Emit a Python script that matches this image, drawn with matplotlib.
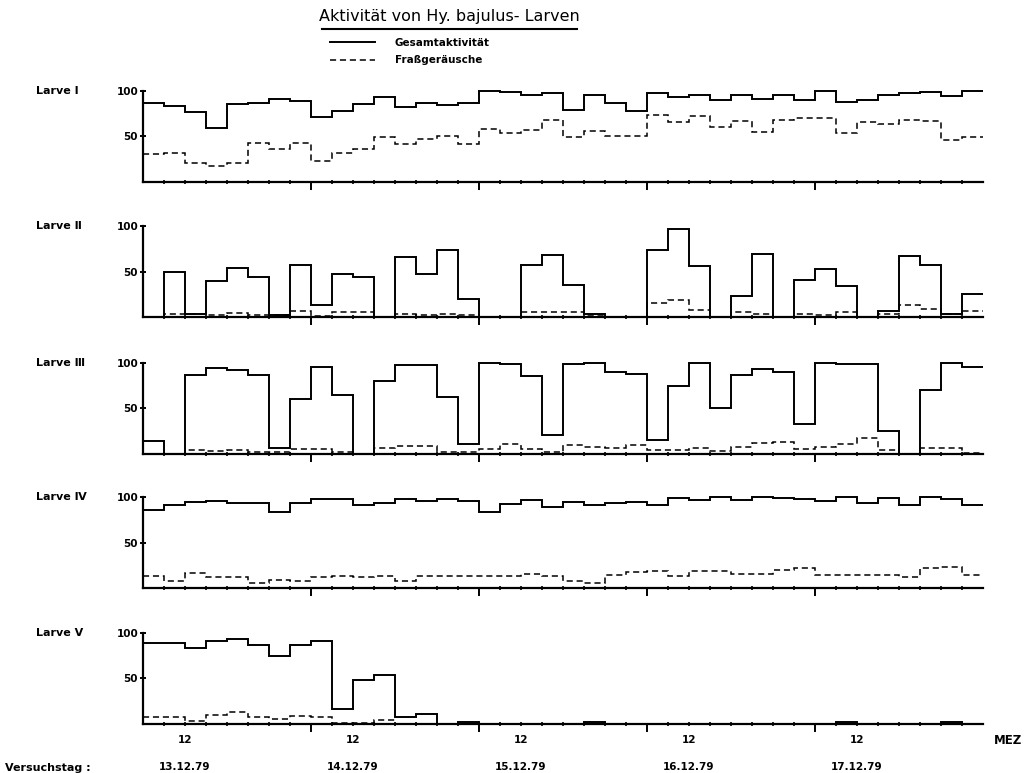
import numpy as np
import matplotlib.pyplot as plt
from matplotlib.lines import Line2D
from matplotlib.ticker import FixedLocator

# Stundenraster: 3-h-Intervalle, 5 Versuchstage ab 06:00 MEZ
stunden = np.arange(0, 121, 3)

larven = ["Larve Ⅰ", "Larve Ⅱ", "Larve Ⅲ", "Larve Ⅳ", "Larve Ⅴ"]

gesamt_1 = [86, 83, 77, 59, 85, 87, 91, 89, 71, 78, 85, 93, 82, 86, 84, 86, 100, 99, 95, 98,
            79, 95, 86, 78, 97, 93, 95, 90, 95, 91, 95, 90, 100, 88, 90, 95, 97, 99, 94, 100]
frass_1 = [30, 32, 21, 17, 20, 42, 36, 43, 23, 31, 36, 49, 41, 47, 50, 41, 58, 54, 57, 68,
           49, 56, 50, 50, 73, 66, 72, 60, 67, 55, 68, 70, 70, 54, 66, 63, 68, 67, 46, 49]

gesamt_2 = [0, 50, 4, 40, 54, 44, 3, 57, 13, 48, 44, 0, 66, 48, 74, 20, 0, 0, 58, 68,
            36, 4, 0, 0, 74, 97, 56, 0, 23, 70, 0, 41, 53, 34, 0, 7, 67, 58, 4, 26]
frass_2 = [0, 4, 4, 2, 5, 3, 3, 7, 1, 6, 6, 0, 4, 3, 4, 3, 0, 0, 6, 6,
           6, 2, 0, 0, 16, 19, 8, 0, 6, 4, 0, 4, 3, 6, 0, 4, 13, 9, 4, 7]

gesamt_3 = [14, 0, 86, 94, 92, 86, 6, 60, 95, 64, 0, 80, 97, 97, 62, 11, 100, 99, 85, 21,
            99, 100, 90, 88, 15, 74, 100, 50, 87, 93, 90, 33, 100, 99, 99, 25, 0, 70, 100, 95]
frass_3 = [0, 0, 4, 3, 4, 2, 2, 5, 5, 2, 0, 6, 8, 8, 2, 2, 5, 11, 5, 2,
           10, 7, 6, 10, 4, 4, 6, 3, 7, 12, 13, 5, 7, 11, 17, 4, 0, 6, 6, 1]

gesamt_4 = [86, 92, 95, 96, 94, 94, 84, 94, 98, 98, 92, 94, 98, 96, 98, 96, 84, 93, 97, 89,
            95, 91, 94, 95, 92, 99, 97, 100, 97, 100, 99, 98, 96, 100, 94, 99, 92, 100, 98, 92]
frass_4 = [14, 8, 17, 12, 12, 6, 9, 8, 12, 14, 12, 14, 8, 14, 14, 14, 14, 14, 16, 13,
           8, 6, 15, 18, 19, 14, 19, 19, 16, 16, 20, 22, 15, 15, 15, 15, 12, 22, 23, 15]

gesamt_5 = [89, 89, 83, 91, 93, 86, 74, 86, 91, 16, 48, 54, 7, 11, 0, 2, 0, 0, 0, 0,
            0, 2, 0, 0, 0, 0, 0, 0, 0, 0, 0, 0, 0, 2, 0, 0, 0, 0, 2, 0]
frass_5 = [7, 7, 3, 10, 13, 7, 5, 9, 7, 1, 1, 4, 0, 0, 0, 0, 0, 0, 0, 0,
           0, 0, 0, 0, 0, 0, 0, 0, 0, 0, 0, 0, 0, 0, 0, 0, 0, 0, 0, 0]

gesamt = [gesamt_1, gesamt_2, gesamt_3, gesamt_4, gesamt_5]
frass = [frass_1, frass_2, frass_3, frass_4, frass_5]

mittag = [6, 30, 54, 78, 102]
mittag_labels = ["12"] * 5
tage = ["13.12.79", "14.12.79", "15.12.79", "16.12.79", "17.12.79"]

plt.rcParams["font.family"] = ["DejaVu Sans"]
plt.rcParams["font.weight"] = "bold"

W, H = 1032, 773
fig = plt.figure(figsize=(W / 100, H / 100), dpi=100)

nulllinie = [181.7, 317.3, 453.7, 588.3, 723.7]

axes = []

for i in range(5):

    ax = fig.add_axes([143 / W, 1 - nulllinie[i] / H, 840 / W, 91 / H])

    ax.stairs(gesamt[i], stunden, baseline=None, color="black", lw=1.4, clip_on=False)
    ax.stairs(frass[i], stunden, baseline=None, color="black", lw=1.1,
              linestyle=(0, (4, 2.5)), clip_on=False)

    ax.set_xlim(0, 120)
    ax.set_ylim(0, 100)

    for s in ["top", "right"]:
        ax.spines[s].set_visible(False)
    for s in ["left", "bottom"]:
        ax.spines[s].set_linewidth(1.6)

    ax.set_yticks([50, 100])
    ax.set_yticklabels(["50", "100"])
    ax.tick_params(axis="y", direction="inout", length=5, width=1.4, labelsize=7.5, pad=1)

    ax.set_xticks([24, 48, 72, 96])
    ax.set_xticklabels([])
    ax.xaxis.set_minor_locator(FixedLocator(stunden[1:-1]))
    ax.tick_params(axis="x", which="major", direction="out", length=5.5, width=1.4)
    ax.tick_params(axis="x", which="minor", direction="inout", length=3.5, width=1.2)

    ax.text(-0.127, 1.0, larven[i], transform=ax.transAxes, ha="left", va="center",
            fontsize=8)

    axes.append(ax)

unten = axes[-1]
trans = unten.get_xaxis_transform()

for x, lab in zip(mittag, mittag_labels):
    unten.text(x, -0.18, lab, transform=trans, ha="center", va="center", fontsize=7.5)

for x, lab in zip(mittag, tage):
    unten.text(x, -0.48, lab, transform=trans, ha="center", va="center", fontsize=7.5)

unten.text(1.03, -0.18, "MEZ", transform=unten.transAxes, ha="center", va="center",
           fontsize=8.5)
fig.text(5 / W, 1 - 768 / H, "Versuchstag :", ha="left", va="center", fontsize=8)

fig.text(449 / W, 1 - 17 / H, "Aktivität von Hy. bajulus- Larven", ha="center",
         va="center", fontsize=11.5, fontweight="normal")
fig.add_artist(Line2D([322 / W, 577 / W], [1 - 29 / H, 1 - 29 / H], color="black", lw=1.5))

handles = [Line2D([], [], color="black", lw=1.4),
           Line2D([], [], color="black", lw=1.1, linestyle=(0, (4, 2.5)))]
fig.legend(handles, ["Gesamtaktivität", "Fraßgeräusche"], loc="upper left",
           bbox_to_anchor=(330 / W, 1 - 38 / H), frameon=False, fontsize=7.5,
           handlelength=4.3, handletextpad=1.9, labelspacing=0.7,
           borderpad=0, borderaxespad=0)

plt.savefig("out.png", dpi=100)
